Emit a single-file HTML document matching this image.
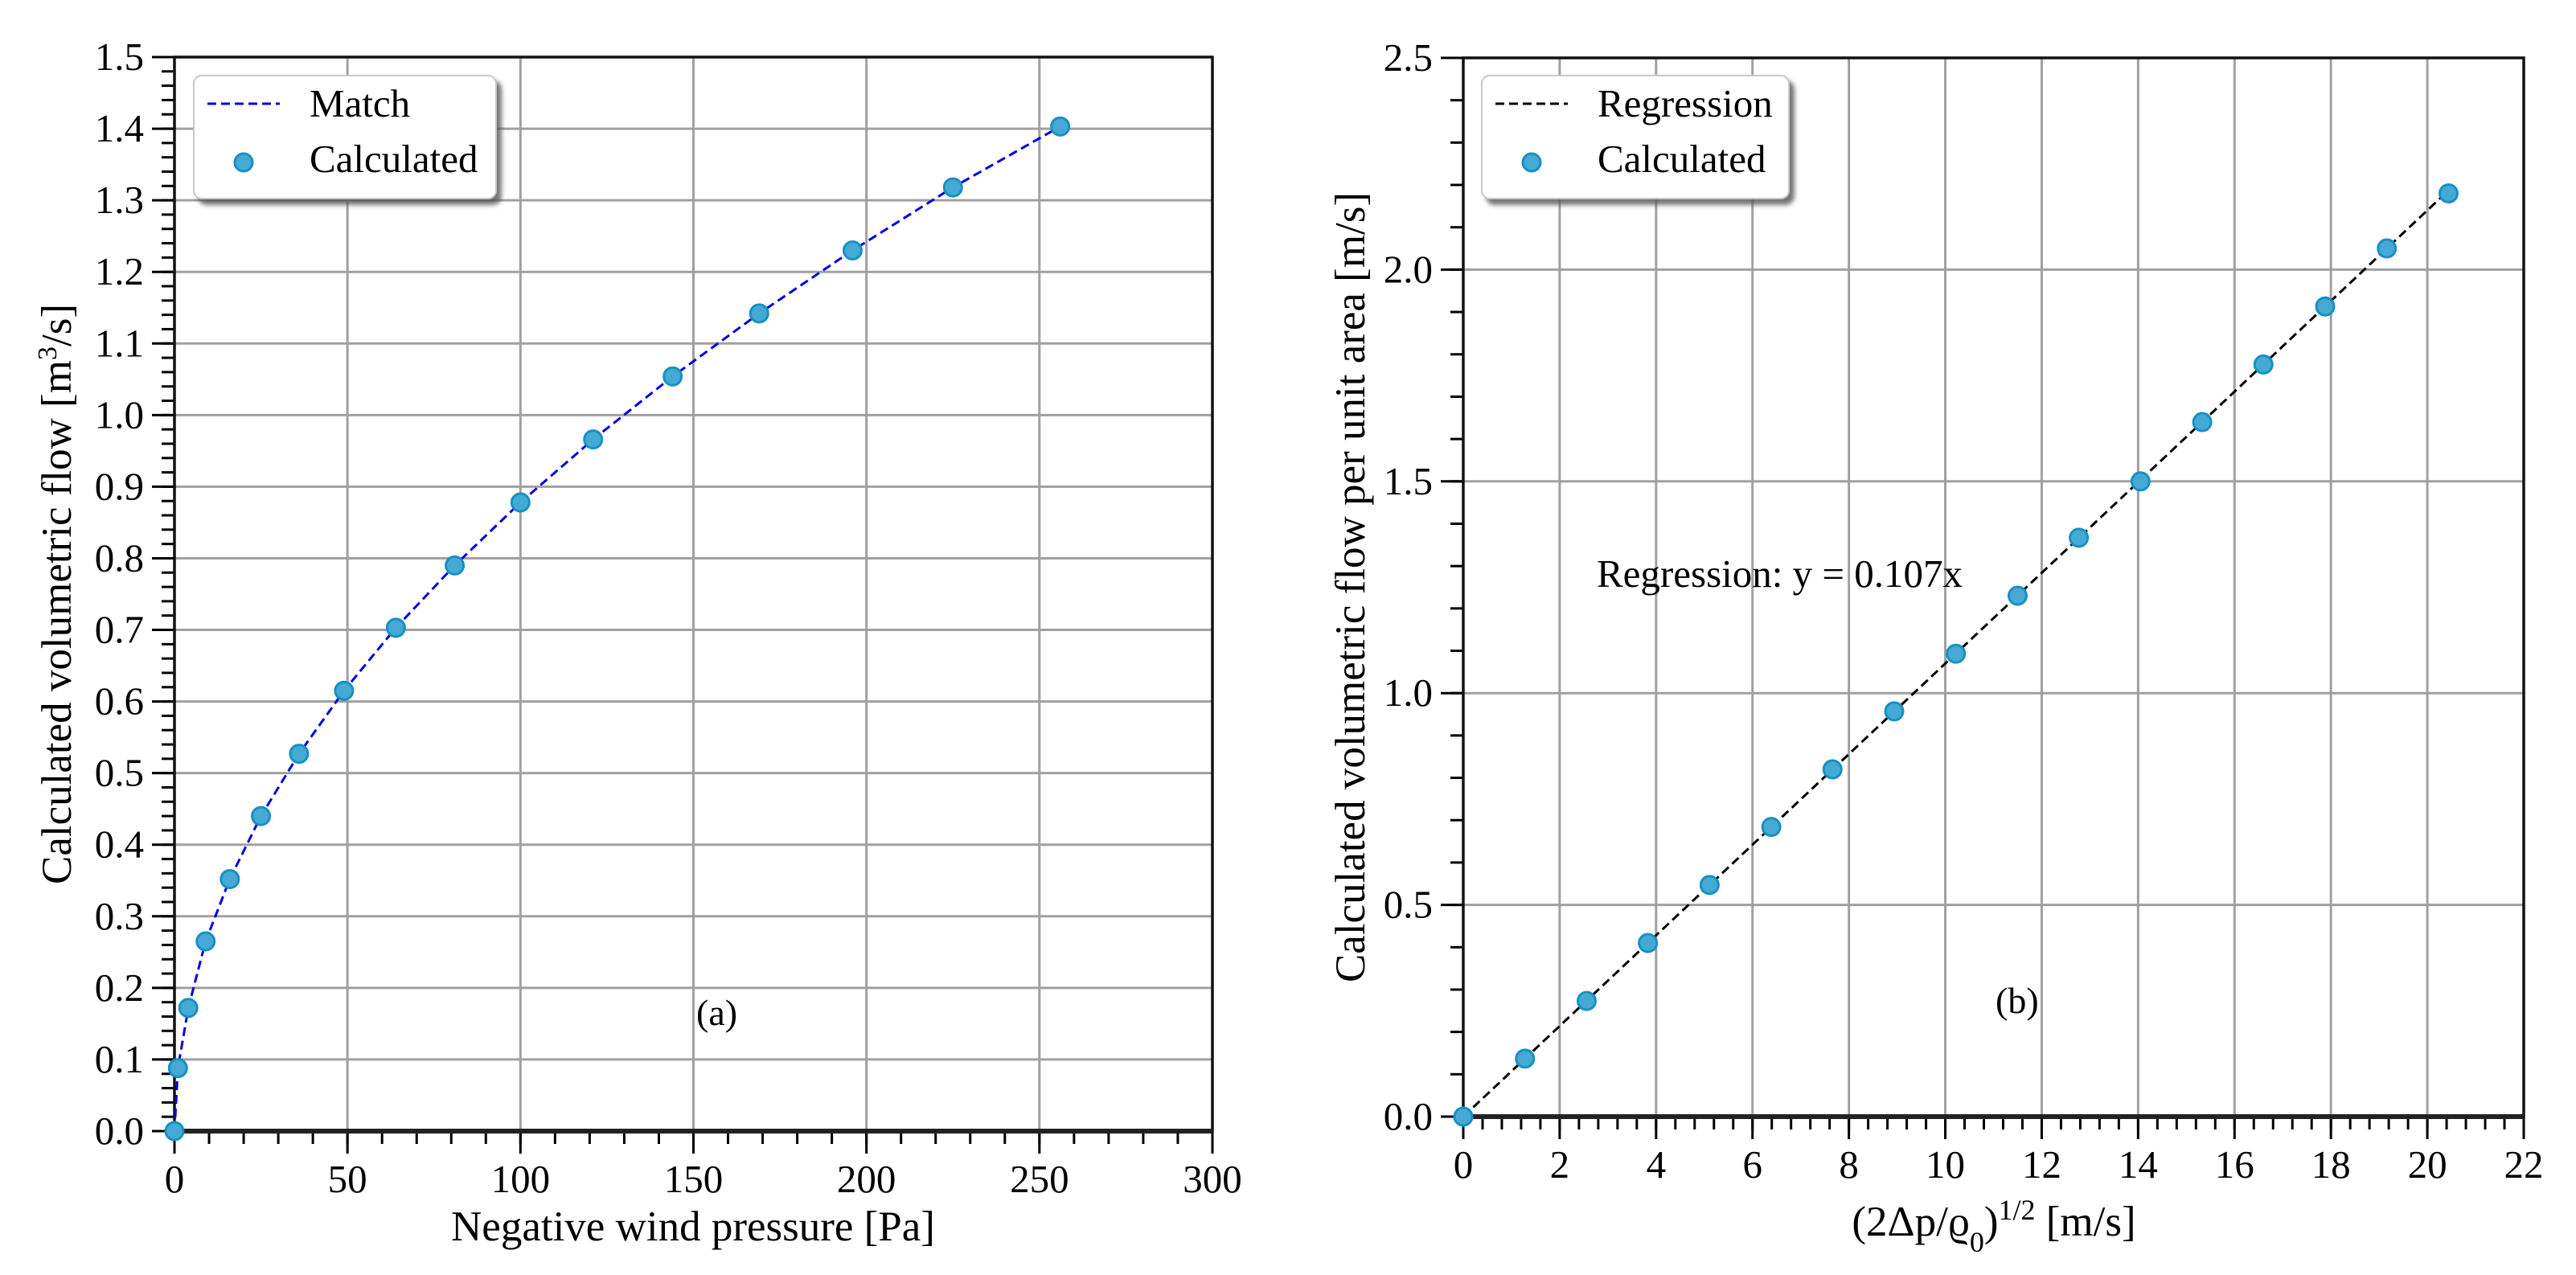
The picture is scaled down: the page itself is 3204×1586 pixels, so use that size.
<!DOCTYPE html>
<html><head><meta charset="utf-8">
<style>
html,body{margin:0;padding:0;background:#fff;}
svg{display:block;font-family:"Liberation Serif",serif;}
</style></head>
<body>
<svg id="chart" width="3204" height="1586" viewBox="0 0 3204 1586" xmlns="http://www.w3.org/2000/svg">
<defs>
<filter id="sh" x="-10%" y="-10%" width="130%" height="140%"><feDropShadow dx="6" dy="7" stdDeviation="3" flood-color="#555" flood-opacity="0.8"/></filter>
</defs>
<g id="pa"></g>
<g id="pb"></g>
</svg>
<script>
// Panel (a) data
const aPressure = [0,1,4,9,16,25,36,49,64,81,100,121,144,169,196,225,256];
const aFlow = [0,0.088,0.172,0.265,0.352,0.44,0.527,0.615,0.703,0.79,0.878,0.966,1.054,1.142,1.23,1.318,1.403];
const aXTicks = [0,50,100,150,200,250,300];
const aYTicks = [0,0.1,0.2,0.3,0.4,0.5,0.6,0.7,0.8,0.9,1.0,1.1,1.2,1.3,1.4,1.5];
// Panel (b) data
const bX = [0,1.28,2.56,3.83,5.11,6.39,7.66,8.94,10.22,11.5,12.77,14.05,15.33,16.6,17.88,19.16,20.44];
const bY = [0,0.137,0.273,0.41,0.547,0.684,0.82,0.957,1.093,1.23,1.367,1.5,1.64,1.776,1.913,2.05,2.18];
const bXTicks = [0,2,4,6,8,10,12,14,16,18,20,22];
const bYTicks = [0,0.5,1.0,1.5,2.0,2.5];
const bSlope = 0.107;

const NS="http://www.w3.org/2000/svg";
function mk(parent,tag,attrs,text){
  const e=document.createElementNS(NS,tag);
  for(const k in attrs) e.setAttribute(k,attrs[k]);
  if(text!==undefined) e.textContent=text;
  parent.appendChild(e); return e;
}

function panel(g,cfg){
  const sx=v=>cfg.x0+(v-cfg.xmin)/(cfg.xmax-cfg.xmin)*(cfg.x1-cfg.x0);
  const sy=v=>cfg.y0-(v-cfg.ymin)/(cfg.ymax-cfg.ymin)*(cfg.y0-cfg.y1);
  const grid=mk(g,'g',{});
  
  
  cfg.xt.forEach(v=>{mk(grid,'line',{x1:sx(v),x2:sx(v),y1:cfg.y1,y2:cfg.y0,stroke:'#a0a0a0','stroke-width':3});});
  cfg.yt.forEach(v=>{mk(grid,'line',{x1:cfg.x0,x2:cfg.x1,y1:sy(v),y2:sy(v),stroke:'#a0a0a0','stroke-width':3});});
  const ticks=mk(g,'g',{stroke:'#000'});
  
  
  for(let v=cfg.xmin; v<=cfg.xmax+1e-9; v+=cfg.xminor){
    mk(ticks,'line',{x1:sx(v),x2:sx(v),y1:cfg.y0,y2:cfg.y0+16,'stroke-width':3});
  }
  for(let v=cfg.ymin; v<=cfg.ymax+1e-9; v+=cfg.yminor){
    mk(ticks,'line',{x1:cfg.x0-16,x2:cfg.x0,y1:sy(v),y2:sy(v),'stroke-width':3});
  }
  cfg.xt.forEach((v,i)=>{
    mk(ticks,'line',{x1:sx(v),x2:sx(v),y1:cfg.y0,y2:cfg.y0+28,'stroke-width':3});
    const t=mk(g,'text',{x:sx(v),y:cfg.y0+76,'font-size':49,'text-anchor':'middle'},cfg.xlab(v));
    
    
  });
  cfg.yt.forEach(v=>{
    mk(ticks,'line',{x1:cfg.x0-28,x2:cfg.x0,y1:sy(v),y2:sy(v),'stroke-width':3});
    const t=mk(g,'text',{x:cfg.x0-38,y:sy(v)+16,'font-size':49,'text-anchor':'end'},v.toFixed(1));
    
    
  });
  const fr=mk(g,'rect',{x:cfg.x0,y:cfg.y1,width:cfg.x1-cfg.x0,height:cfg.y0-cfg.y1,fill:'none',stroke:'#111','stroke-width':3.5});
  
  
  mk(g,'line',{x1:cfg.x0,x2:cfg.x1,y1:cfg.y0,y2:cfg.y0,stroke:'#222','stroke-width':6});
  const pts=cfg.lineX.map((x,i)=>sx(x)+','+sy(cfg.lineY[i])).join(' ');
  const ln=mk(g,'polyline',{points:pts,fill:'none',stroke:cfg.lineColor,'stroke-width':3,'stroke-dasharray':'11,6'});
  
  
  cfg.px.forEach((x,i)=>{
    const c=mk(g,'circle',{cx:sx(x),cy:sy(cfg.py[i]),r:11,fill:'#44aad5',stroke:'#1890c2','stroke-width':3});
    
    
  });
  const xl=mk(g,'text',{x:cfg.xlabX,y:cfg.xlabY,'font-size':53,'text-anchor':'middle'});
  xl.innerHTML=cfg.xTitle;
  
  
  const yl=mk(g,'text',{x:0,y:0,'font-size':53,'text-anchor':'middle',transform:'translate('+cfg.ylabX+','+((cfg.y0+cfg.y1)/2)+') rotate(-90)'});
  yl.innerHTML=cfg.yTitle;
  
  
  const lg=mk(g,'g',{});
  
  
  mk(lg,'rect',{x:cfg.lx,y:94,width:cfg.lw,height:153,rx:10,fill:'#fff',stroke:'#c8c8c8','stroke-width':2,filter:'url(#sh)'});
  const e1=mk(lg,'g',{});
  
  
  mk(e1,'line',{x1:cfg.lx+17,x2:cfg.lx+107,y1:129,y2:129,stroke:cfg.lineColor,'stroke-width':3,'stroke-dasharray':'11,6'});
  mk(e1,'text',{x:cfg.lx+144,y:145,'font-size':49},cfg.lineLabel);
  const e2=mk(lg,'g',{});
  
  
  mk(e2,'circle',{cx:cfg.lx+62,cy:202,r:11,fill:'#44aad5',stroke:'#1890c2','stroke-width':3});
  mk(e2,'text',{x:cfg.lx+144,y:214,'font-size':49},'Calculated');
  return {sx,sy};
}

const pa=document.getElementById('pa');
panel(pa,{x0:217,x1:1508,y0:1407,y1:71,xmin:0,xmax:300,ymin:0,ymax:1.5,
  xt:aXTicks,yt:aYTicks,xminor:10,yminor:0.02,xlab:v=>String(v),
  lineX:aPressure,lineY:aFlow,lineColor:'#0000dd',lineName:'match-line',lineLabel:'Match',
  px:aPressure,py:aFlow,
  xTitle:'Negative wind pressure [Pa]',xlabX:862,xlabY:1543,
  yTitle:'Calculated volumetric flow [m<tspan baseline-shift="super" font-size="34">3</tspan>/s]',ylabX:88,
  lx:241,lw:376});
const ta=mk(pa,'text',{x:866,y:1275,'font-size':46},'(a)');



const pb=document.getElementById('pb');
const regX=[0,bX[bX.length-1]];
const regY=regX.map(v=>v*bSlope);
panel(pb,{x0:1820,x1:3139,y0:1389,y1:72,xmin:0,xmax:22,ymin:0,ymax:2.5,
  xt:bXTicks,yt:bYTicks,xminor:0.4,yminor:0.1,xlab:v=>String(v),
  lineX:regX,lineY:regY,lineColor:'#000',lineName:'regression-line',lineLabel:'Regression',
  px:bX,py:bY,
  xTitle:'(2Δp/ϱ<tspan baseline-shift="sub" font-size="36">0</tspan>)<tspan baseline-shift="super" font-size="36">1/2</tspan> [m/s]',xlabX:2480,xlabY:1537,
  yTitle:'Calculated volumetric flow per unit area [m/s]',ylabX:1697,
  lx:1843,lw:382});
const tr=mk(pb,'text',{x:1986,y:730,'font-size':49},'Regression: y = 0.107x');


const tb=mk(pb,'text',{x:2482,y:1260,'font-size':46},'(b)');


</script>
</body></html>
